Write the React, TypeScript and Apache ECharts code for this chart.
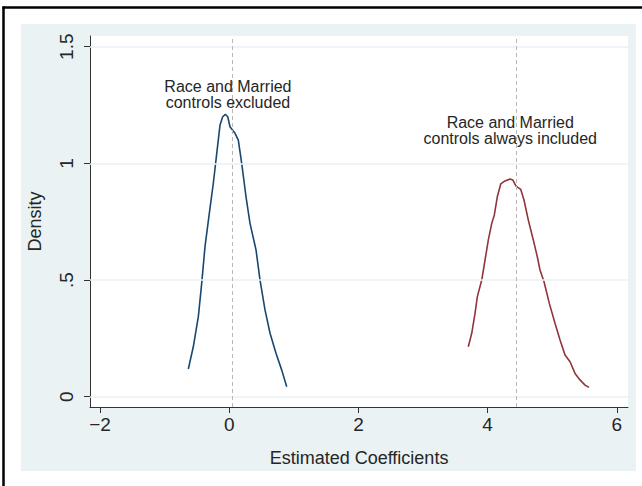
import React, { useEffect, useRef } from "react";
import * as echarts from "echarts";

// Kernel density of estimated coefficients: controls excluded (blue)
const excludedX = [-0.633, -0.556, -0.478, -0.426, -0.375, -0.308, -0.246, -0.193, -0.142, -0.101, -0.06, -0.023, 0.012, 0.09, 0.141, 0.193, 0.26, 0.322, 0.415, 0.477, 0.554, 0.632, 0.724, 0.813, 0.89];
const excludedY = [0.119, 0.214, 0.343, 0.486, 0.643, 0.786, 0.915, 1.043, 1.165, 1.2, 1.21, 1.2, 1.157, 1.129, 1.1, 1.0, 0.857, 0.743, 0.629, 0.5, 0.372, 0.272, 0.186, 0.114, 0.043];

// Controls always included (red)
const includedX = [3.701, 3.754, 3.805, 3.841, 3.909, 3.96, 4.011, 4.064, 4.104, 4.15, 4.203, 4.269, 4.347, 4.389, 4.44, 4.512, 4.563, 4.63, 4.707, 4.769, 4.811, 4.873, 4.955, 5.043, 5.121, 5.198, 5.276, 5.353, 5.43, 5.508, 5.57];
const includedY = [0.214, 0.272, 0.357, 0.429, 0.5, 0.586, 0.672, 0.743, 0.779, 0.857, 0.912, 0.925, 0.933, 0.929, 0.903, 0.889, 0.843, 0.757, 0.672, 0.6, 0.543, 0.493, 0.4, 0.315, 0.243, 0.179, 0.15, 0.1, 0.072, 0.05, 0.04];

const xTicks = [-2, 0, 2, 4, 6];
const yTicks = [0, 0.5, 1, 1.5];
const yTickLabels = ["0", ".5", "1", "1.5"];
const refLines = [0.05, 4.44];
const annotations = [
  { x: -0.02, y: 1.297, text: "Race and Married\ncontrols excluded" },
  { x: 4.35, y: 1.143, text: "Race and Married\ncontrols always included" },
];

const FONT = "'Liberation Sans', Arial, sans-serif";
const BG = "#eaf2f3";

export default function App() {
  const ref = useRef<HTMLDivElement>(null);
  useEffect(() => {
    if (!ref.current) return;
    const chart = echarts.init(ref.current, undefined, { renderer: "svg" });
    const fmtX = (v: number) => (v < 0 ? "\u2212" + Math.abs(v) : String(v));
    chart.setOption({
      animation: false,
      backgroundColor: "#ffffff",
      textStyle: { fontFamily: FONT },
      graphic: [
        { type: "rect", z: -100, silent: true, shape: { x: 21, y: 24, width: 615, height: 447 }, style: { fill: BG } },
        { type: "line", z: 100, silent: true, shape: { x1: 2.5, y1: 7.5, x2: 642, y2: 7.5 }, style: { stroke: "#000", lineWidth: 2.5 } },
        { type: "line", z: 100, silent: true, shape: { x1: 3.5, y1: 6.5, x2: 3.5, y2: 486 }, style: { stroke: "#000", lineWidth: 2.5 } },
      ],
      grid: { left: 90, right: 14, top: 36, bottom: 79, show: true, backgroundColor: "#ffffff", borderWidth: 0 },
      xAxis: {
        type: "value",
        min: -2.155,
        max: 6.173,
        name: "Estimated Coefficients",
        nameLocation: "middle",
        nameGap: 42,
        nameTextStyle: { fontSize: 18, color: "#262626", fontFamily: FONT },
        axisLine: { show: true, onZero: false, lineStyle: { color: "#333", width: 1 } },
        axisTick: { show: true, inside: false, length: 6, customValues: xTicks, lineStyle: { color: "#333" } },
        axisLabel: { customValues: xTicks, formatter: fmtX, fontSize: 19, color: "#262626", margin: 8, fontFamily: FONT },
        splitLine: { show: false },
      },
      yAxis: {
        type: "value",
        min: -0.044,
        max: 1.546,
        name: "Density",
        nameLocation: "middle",
        nameRotate: 90,
        nameGap: 46,
        nameTextStyle: { fontSize: 18, color: "#262626", fontFamily: FONT },
        axisLine: { show: true, onZero: false, lineStyle: { color: "#333", width: 1 } },
        axisTick: { show: true, inside: false, length: 6, customValues: yTicks, lineStyle: { color: "#333" } },
        axisLabel: {
          customValues: yTicks,
          rotate: 90,
          fontSize: 19,
          color: "#262626",
          margin: 14,
          fontFamily: FONT,
          formatter: (v: number) => yTickLabels[yTicks.indexOf(v)] ?? String(v),
        },
        splitLine: { show: false },
      },
      series: [
        {
          type: "line",
          z: 1,
          data: [[0, 0]],
          symbol: "none",
          lineStyle: { opacity: 0 },
          silent: true,
          markLine: {
            silent: true,
            symbol: "none",
            label: { show: false },
            data: [
              ...yTicks.map((v) => ({ yAxis: v, lineStyle: { color: BG, width: 1.5, type: "solid" } })),
              ...refLines.map((v) => ({ xAxis: v, lineStyle: { color: "#b8b8b8", width: 1, type: [4, 3] } })),
            ],
          },
          markPoint: {
            silent: true,
            symbol: "circle",
            symbolSize: 1,
            itemStyle: { color: "rgba(0,0,0,0)" },
            label: {
              show: true,
              position: "inside",
              fontSize: 16,
              lineHeight: 16,
              color: "#262626",
              align: "center",
              verticalAlign: "middle",
              fontFamily: FONT,
              formatter: (p: any) => p.name,
            },
            data: annotations.map((a) => ({ name: a.text, coord: [a.x, a.y] })),
          },
        },
        {
          type: "line",
          z: 3,
          symbol: "none",
          smooth: false,
          data: excludedX.map((x, i) => [x, excludedY[i]]),
          lineStyle: { color: "#1a476f", width: 1.6 },
        },
        {
          type: "line",
          z: 3,
          symbol: "none",
          smooth: false,
          data: includedX.map((x, i) => [x, includedY[i]]),
          lineStyle: { color: "#90353b", width: 1.6 },
        },
      ],
    });
    return () => chart.dispose();
  }, []);
  return <div ref={ref} style={{ position: "fixed", left: 0, top: 0, width: 642, height: 486 }} />;
}
